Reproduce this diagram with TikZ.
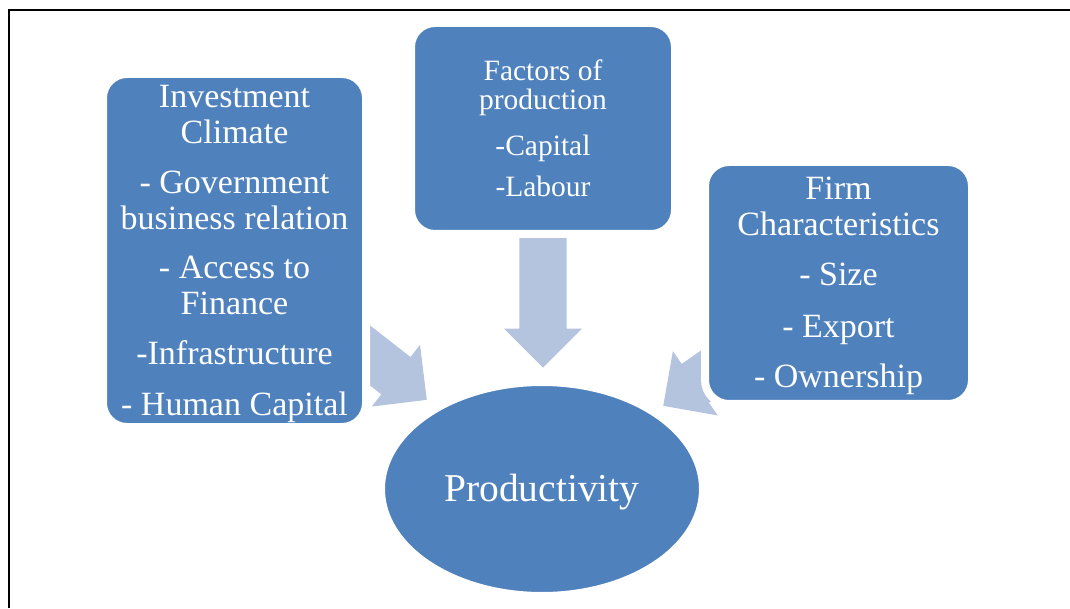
\documentclass[tikz,border=0pt]{standalone}
\usepackage{fontspec}
\setmainfont{Liberation Serif}
\usetikzlibrary{shapes.geometric,shapes.arrows}

\definecolor{boxblue}{HTML}{4F81BD}
\definecolor{arrowblue}{HTML}{B4C3DE}

\tikzset{
  factor/.style={rectangle, rounded corners=24pt, fill=boxblue, draw=white,
    line width=8pt, text=white, align=center,
    font=\fontsize{34}{36}\selectfont},
  % shaft is 2*inner sep wide, head is minimum width wide
  bigarrow/.style={single arrow, fill=arrowblue, inner sep=23.5pt,
    minimum height=134pt, minimum width=78pt, anchor=tip,
    single arrow head extend=15.5pt, single arrow head indent=0pt},
}

\begin{document}
\begin{tikzpicture}[x=1pt,y=1pt]
\useasboundingbox (0,0) rectangle (1070,608);
% outline
\draw[line width=2pt] (9,0) -- (9,598) -- (1070,598);

% arrows first, the boxes sit on top of their tails
\node[bigarrow, rotate=-90]  (arrD) at (543,240) {};
\node[bigarrow, rotate=-38]  (arrL) at (427,208) {};
\node[bigarrow, rotate=-145] (arrR) at (663,202) {};

\node[factor, minimum width=263pt, minimum height=353pt] (invest) at (234.5,357.5)
  {\rule{0pt}{29pt}Investment\\Climate\\[14pt]- Government\\business relation\\[13pt]- Access to\\Finance\\[14pt]-Infrastructure\\[15pt]- Human Capital};
\node[factor, minimum width=264pt, minimum height=211pt,
      font=\fontsize{29.5}{29.5}\selectfont] (factors) at (543,479.5)
  {Factors of\\production\\[16pt]-Capital\\[12pt]-Labour};
\node[factor, minimum width=267pt, minimum height=242pt] (firm) at (838.5,325)
  {\rule{0pt}{29pt}Firm\\Characteristics\\[14pt]- Size\\[16pt]- Export\\[14pt]- Ownership};

\node[ellipse, fill=boxblue, draw=white, line width=8pt, text=white,
      minimum width=322pt, minimum height=214pt,
      font=\fontsize{39.5}{40}\selectfont] (prod) at (542,119)
  {\rule{0pt}{33pt}Productivity};
\end{tikzpicture}
\end{document}
